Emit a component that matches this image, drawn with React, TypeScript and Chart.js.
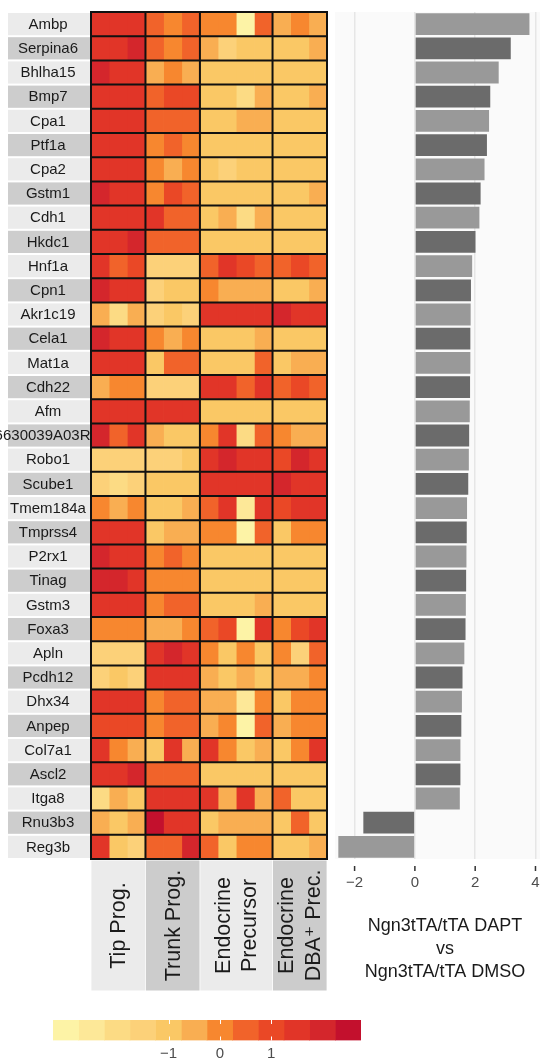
import React, { useEffect, useRef } from 'react';
import { Chart, registerables } from 'chart.js';

Chart.register(...registerables);

const FONT = '"Liberation Sans", "DejaVu Sans", Arial, sans-serif';

// Genes, top to bottom
const genes = [
  'Ambp', 'Serpina6', 'Bhlha15', 'Bmp7', 'Cpa1', 'Ptf1a', 'Cpa2', 'Gstm1', 'Cdh1', 'Hkdc1',
  'Hnf1a', 'Cpn1', 'Akr1c19', 'Cela1', 'Mat1a', 'Cdh22', 'Afm', '6630039A03Rik', 'Robo1', 'Scube1',
  'Tmem184a', 'Tmprss4', 'P2rx1', 'Tinag', 'Gstm3', 'Foxa3', 'Apln', 'Pcdh12', 'Dhx34', 'Anpep',
  'Col7a1', 'Ascl2', 'Itga8', 'Rnu3b3', 'Reg3b',
];

// Cell populations and the number of replicate samples in each
const groupLabels: string[][] = [
  ['Tip Prog.'],
  ['Trunk Prog.'],
  ['Endocrine', 'Precursor'],
  ['Endocrine', 'DBA\u207A Prec.'],
];
const groupSizes = [3, 3, 4, 3];

// Row-scaled expression (z-score), one row per gene, columns = samples
const expression: number[][] = [
  [1.5, 1.5, 1.5, 0.5, 0, 0.5, 0, 0, -3, 0.5, -0.5, 0, -0.5],
  [1.5, 1.5, 2.0, 0.5, 0, 0.5, -0.5, -1.5, -1, -1, -1, -1, -0.5],
  [2.0, 1.5, 1.5, -0.5, 0, -0.5, -1, -1, -1, -1, -1, -1, -1],
  [1.5, 1.5, 1.5, 0.5, 1.0, 1.0, -1, -1, -2, -0.5, -1, -1, -0.5],
  [1.5, 1.5, 1.5, 0.5, 0.5, 0.5, -1, -1, -0.5, -0.5, -1, -1, -1],
  [1.5, 1.5, 1.5, 0, 0.5, 0, -1, -1, -1, -1, -1, -1, -1],
  [1.5, 1.5, 1.5, 0, -0.5, 0, -1, -1.5, -1, -1, -1, -1, -1],
  [2.0, 1.5, 1.5, 0, 1.0, 0.5, -1, -1, -1, -1, -1, -1, -0.5],
  [1.5, 1.5, 1.5, 1.5, 0.5, 0.5, -1, -0.5, -2, -0.5, -1, -1, -1],
  [1.5, 1.5, 2.0, 0.5, 0.5, 0.5, -1, -1, -1, -1, -1, -1, -1],
  [1.5, 0.5, 1.0, -1.5, -1.5, -1.5, 0.5, 1.5, 1.0, 0.5, 0.5, 1.0, 0.5],
  [2.0, 1.5, 1.5, -1.5, -1, -1, 0, -0.5, -0.5, -0.5, -1, -1, -0.5],
  [-0.5, -2, -0.5, -1.5, -1, -1.5, 1.5, 1.5, 1.5, 1.5, 2.0, 1.5, 1.5],
  [2.0, 1.5, 1.5, 0, -0.5, 0, -1, -1, -1, -0.5, -1, -1, -1],
  [1.5, 1.5, 1.5, -1, 0.5, 0.5, -1, -1, -1, 0.5, -1, -0.5, -0.5],
  [-0.5, 0, 0, -1.5, -1.5, -1.5, 1.5, 1.5, 0.5, 1.5, 0.5, 1.0, 0.5],
  [1.5, 1.5, 1.5, 1.5, 1.5, 1.5, -1, -1, -1, -1, -1, -1, -1],
  [2.0, 0.5, 1.5, -0.5, -1, -1, 0, 1.5, -2, 0.5, 0, -0.5, -0.5],
  [-1.5, -1.5, -1.5, -1.5, -1.5, -1, 1.5, 2.0, 1.5, 1.5, 1.0, 2.0, 1.5],
  [-1.5, -2, -1.5, -1, -1, -1, 1.5, 1.5, 1.5, 1.5, 2.0, 1.5, 1.5],
  [0, -0.5, 0, -1, -1, -0.5, 0.5, 1.5, -2.5, 1.5, 1.0, 1.5, 1.5],
  [1.5, 1.5, 1.5, -1, -0.5, -0.5, 0, 0, -3, 0.5, -1, 0, 0],
  [2.0, 1.5, 1.5, 0, 0.5, 0, -1, -1, -1, -1, -1, -1, -1],
  [2.0, 2.0, 1.5, 0, 0, 0, -1, -1, -1, -1, -1, -1, -1],
  [1.5, 1.5, 1.5, 0, 0.5, 0.5, -1, -1, -1, -0.5, -1, -1, -1],
  [0, 0, 0, -0.5, -0.5, 0, 0.5, 1.0, -3, 1.5, 0, 1.0, 1.5],
  [-1.5, -1.5, -1.5, 1.5, 2.0, 1.5, 0, -1, 0, -1, 0, -1.5, 0.5],
  [-1.5, -1, -1.5, 1.5, 1.5, 1.5, -0.5, -1, -0.5, -1, -0.5, -0.5, 0],
  [1.5, 1.5, 1.5, 0, 0.5, 0.5, -0.5, -0.5, -2.5, 0, -1, 0, 0],
  [1.0, 1.0, 1.0, 0, 0.5, 0.5, -0.5, 0, -3, 0.5, -0.5, 0, 0],
  [1.5, 0, -0.5, -1, 1.5, -0.5, 1.5, 0, -1, -0.5, -1, 0, 1.5],
  [1.5, 1.5, 2.0, 0.5, 0.5, 0.5, -1, -1, -1, -1, -1, -1, -1],
  [-2, -0.5, -1, 1.5, 1.5, 1.5, 1.5, -0.5, 1.5, -0.5, 0.5, -1, -1],
  [-0.5, -1, -0.5, 2.5, 1.5, 1.5, -1, -0.5, -0.5, -0.5, -1, 0.5, -1],
  [1.5, -1, -1.5, 0.5, 0.5, 2.0, 0.5, -1, 0, 0, -1, -1, -0.5],
];

// log2 fold change, Ngn3tTA/tTA DAPT vs DMSO
const foldChange = [
  3.8, 3.18, 2.78, 2.5, 2.46, 2.39, 2.31, 2.18, 2.14, 2.01,
  1.9, 1.86, 1.85, 1.84, 1.84, 1.83, 1.82, 1.8, 1.79, 1.77,
  1.73, 1.72, 1.71, 1.7, 1.69, 1.68, 1.64, 1.58, 1.56, 1.54,
  1.51, 1.51, 1.49, -1.71, -2.54,
];
const foldTicks = [-2, 0, 2, 4];
const foldTitle = ['Ngn3tTA/tTA DAPT', 'vs', 'Ngn3tTA/tTA DMSO'];

// Stepped colour scale
const palette = [
  '#fdf3a6', '#fde898', '#fcdb84', '#fcd179', '#fac865', '#f9ae52',
  '#f7872f', '#f1632a', '#ea4826', '#e13528', '#d4262c', '#c3102d',
];
const paletteMin = -3.25;
const paletteStep = 0.5;
const colorbarTicks = [-1, 0, 1];

const minus = (v: number) => (v < 0 ? '\u2212' + Math.abs(v) : String(v));

function heatColor(z: number) {
  const k = Math.floor((z - paletteMin) / paletteStep);
  return palette[Math.max(0, Math.min(palette.length - 1, k))];
}

const sampleCount = groupSizes.reduce((a, b) => a + b, 0);
const groupEdges = groupSizes.reduce<number[]>((acc, n) => [...acc, acc[acc.length - 1] + n], [0]);

const heatmapDecor = {
  id: 'heatmapDecor',
  beforeDatasetsDraw(chart: any) {
    const { ctx, chartArea, scales } = chart;
    const { x, y } = scales;
    ctx.save();
    ctx.textAlign = 'center';
    ctx.textBaseline = 'middle';
    // gene label strips
    ctx.font = `15px ${FONT}`;
    genes.forEach((g, i) => {
      const top = y.getPixelForValue(i - 0.5);
      const bot = y.getPixelForValue(i + 0.5);
      ctx.fillStyle = i % 2 ? '#cdcdcd' : '#ebebeb';
      ctx.fillRect(8, top + 1, chartArea.left - 8, bot - top - 2);
      ctx.fillStyle = '#1a1a1a';
      ctx.fillText(g, 48, (top + bot) / 2 + 0.5);
    });
    // population label strips
    const boxTop = chartArea.bottom + 1.5;
    const boxH = 130;
    ctx.font = `21.5px ${FONT}`;
    groupLabels.forEach((lines, gi) => {
      const x0 = x.getPixelForValue(groupEdges[gi]);
      const x1 = x.getPixelForValue(groupEdges[gi + 1]);
      ctx.fillStyle = gi % 2 ? '#cccccc' : '#ebebeb';
      ctx.fillRect(x0 + 0.4, boxTop, x1 - x0 - 0.8, boxH);
      ctx.fillStyle = '#1a1a1a';
      const cx = (x0 + x1) / 2;
      const cy = boxTop + boxH / 2;
      lines.forEach((ln, j) => {
        ctx.save();
        ctx.translate(cx + (j - (lines.length - 1) / 2) * 26.5, cy);
        ctx.rotate(-Math.PI / 2);
        ctx.fillText(ln, 0, 1);
        ctx.restore();
      });
    });
    ctx.restore();
  },
  afterDatasetsDraw(chart: any) {
    const { ctx, chartArea, scales } = chart;
    const { x, y } = scales;
    ctx.save();
    ctx.strokeStyle = '#111111';
    ctx.lineWidth = 2;
    ctx.beginPath();
    for (let k = 0; k <= genes.length; k++) {
      const py = y.getPixelForValue(k - 0.5);
      ctx.moveTo(chartArea.left - 1, py);
      ctx.lineTo(chartArea.right + 1, py);
    }
    groupEdges.forEach((e) => {
      const px = x.getPixelForValue(e);
      ctx.moveTo(px, chartArea.top);
      ctx.lineTo(px, chartArea.bottom);
    });
    ctx.stroke();
    ctx.restore();
  },
};

const foldDecor = {
  id: 'foldDecor',
  beforeDraw(chart: any) {
    const { ctx, chartArea } = chart;
    ctx.save();
    ctx.fillStyle = '#fafafa';
    ctx.fillRect(chartArea.left, chartArea.top, chartArea.right - chartArea.left, chartArea.bottom - chartArea.top);
    ctx.restore();
  },
  afterDraw(chart: any) {
    const { ctx, chartArea, scales } = chart;
    ctx.save();
    // tick marks under the panel
    ctx.strokeStyle = '#333333';
    ctx.lineWidth = 1.5;
    ctx.beginPath();
    foldTicks.forEach((v) => {
      const px = scales.x.getPixelForValue(v);
      ctx.moveTo(px, chartArea.bottom + 7);
      ctx.lineTo(px, chartArea.bottom + 12);
    });
    ctx.stroke();
    // comparison title
    ctx.fillStyle = '#1a1a1a';
    ctx.font = `18px ${FONT}`;
    ctx.textAlign = 'center';
    ctx.textBaseline = 'middle';
    foldTitle.forEach((t, i) => {
      ctx.fillText(t, 115, chartArea.bottom + 67 + i * 23);
    });
    ctx.restore();
  },
};

const colorbarDecor = {
  id: 'colorbarDecor',
  afterDatasetsDraw(chart: any) {
    const { ctx, chartArea, scales } = chart;
    ctx.save();
    ctx.strokeStyle = '#ffffff';
    ctx.lineWidth = 1;
    ctx.beginPath();
    colorbarTicks.forEach((v) => {
      const px = Math.round(scales.x.getPixelForValue(v)) + 0.5;
      ctx.moveTo(px, chartArea.top);
      ctx.lineTo(px, chartArea.top + 4);
      ctx.moveTo(px, chartArea.bottom - 4);
      ctx.lineTo(px, chartArea.bottom);
    });
    ctx.stroke();
    ctx.restore();
  },
};

const common = {
  animation: false as const,
  responsive: false,
  events: [] as any[],
  plugins: { legend: { display: false }, tooltip: { enabled: false } },
};

// keep the plot area exactly where the layout padding puts it
const fixAxis = (height: number) => (s: any) => {
  s.height = height;
  s.paddingLeft = 0;
  s.paddingRight = 0;
};

export default function App() {
  const heatRef = useRef<HTMLCanvasElement>(null);
  const foldRef = useRef<HTMLCanvasElement>(null);
  const barRef = useRef<HTMLCanvasElement>(null);

  useEffect(() => {
    const charts: Chart[] = [];

    charts.push(
      new Chart(heatRef.current!, {
        type: 'bar',
        data: {
          labels: genes,
          datasets: Array.from({ length: sampleCount }, (_, j) => ({
            data: genes.map(() => 1),
            backgroundColor: expression.map((row) => heatColor(row[j])),
            barPercentage: 1,
            categoryPercentage: 1,
            borderWidth: 0,
          })),
        },
        options: {
          ...common,
          indexAxis: 'y',
          layout: { padding: { left: 91, right: 3, top: 12, bottom: 141 } },
          scales: {
            x: { stacked: true, display: false, min: 0, max: sampleCount },
            y: { stacked: true, display: false },
          },
        } as any,
        plugins: [heatmapDecor],
      })
    );

    charts.push(
      new Chart(foldRef.current!, {
        type: 'bar',
        data: {
          labels: genes,
          datasets: [
            {
              data: foldChange,
              backgroundColor: genes.map((_, i) => (i % 2 ? '#6b6b6b' : '#999999')),
              barPercentage: 0.9,
              categoryPercentage: 1,
              borderWidth: 0,
            },
          ],
        },
        options: {
          ...common,
          indexAxis: 'y',
          layout: { padding: { left: 5, right: 2, top: 12, bottom: 0 } },
          scales: {
            y: { display: false },
            x: {
              type: 'linear',
              min: -2.65,
              max: 4.15,
              afterBuildTicks: (s: any) => {
                s.ticks = foldTicks.map((v) => ({ value: v }));
              },
              afterFit: fixAxis(141),
              grid: { color: '#e6e6e6', lineWidth: 1.5, drawTicks: false },
              border: { display: false },
              ticks: {
                padding: 15,
                color: '#4d4d4d',
                font: { family: FONT, size: 15 },
                callback: (v: any) => minus(Number(v)),
              },
            },
          },
        } as any,
        plugins: [foldDecor],
      })
    );

    charts.push(
      new Chart(barRef.current!, {
        type: 'bar',
        data: {
          labels: [''],
          datasets: palette.map((c, k) => ({
            data: [[paletteMin + k * paletteStep, paletteMin + (k + 1) * paletteStep]],
            backgroundColor: c,
            barPercentage: 1,
            categoryPercentage: 1,
            grouped: false,
            borderWidth: 0,
          })),
        } as any,
        options: {
          ...common,
          indexAxis: 'y',
          layout: { padding: { left: 53, right: 39, top: 15, bottom: 0 } },
          scales: {
            y: { display: false },
            x: {
              type: 'linear',
              min: paletteMin,
              max: paletteMin + palette.length * paletteStep,
              afterBuildTicks: (s: any) => {
                s.ticks = colorbarTicks.map((v) => ({ value: v }));
              },
              afterFit: fixAxis(20.5),
              grid: { display: false, drawTicks: false },
              border: { display: false },
              ticks: {
                padding: 4,
                color: '#4d4d4d',
                font: { family: FONT, size: 15 },
                callback: (v: any) => minus(Number(v)),
              },
            },
          },
        } as any,
        plugins: [colorbarDecor],
      })
    );

    return () => charts.forEach((c) => c.destroy());
  }, []);

  return (
    <div
      style={{
        position: 'absolute',
        left: 0,
        top: 0,
        width: 542,
        height: 1061,
        background: '#ffffff',
        overflow: 'hidden',
      }}
    >
      <canvas
        ref={heatRef}
        width={330}
        height={1000}
        style={{ position: 'absolute', left: 0, top: 0, width: 330, height: 1000 }}
      />
      <canvas
        ref={foldRef}
        width={212}
        height={1000}
        style={{ position: 'absolute', left: 330, top: 0, width: 212, height: 1000 }}
      />
      <canvas
        ref={barRef}
        width={400}
        height={56}
        style={{ position: 'absolute', left: 0, top: 1005, width: 400, height: 56 }}
      />
    </div>
  );
}
